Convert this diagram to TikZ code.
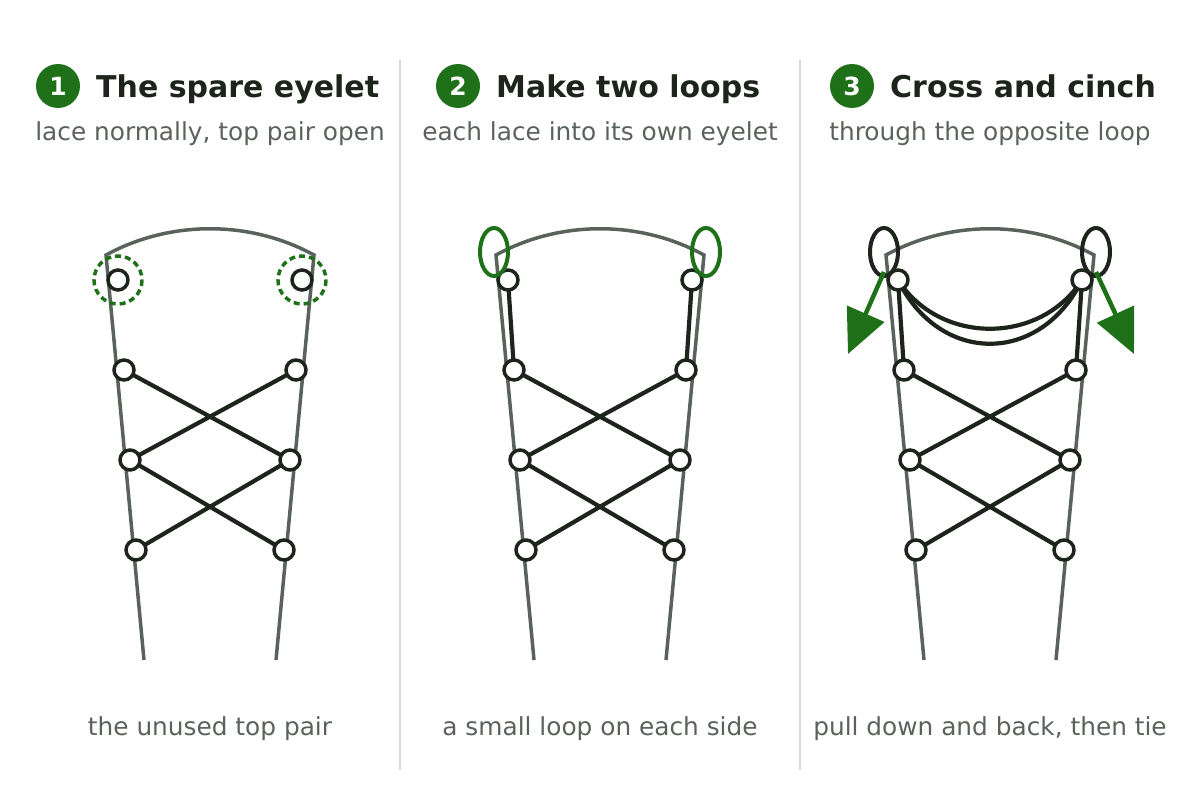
\documentclass[tikz,border=0pt]{standalone}
\usepackage{fontspec}
\setmainfont{DejaVu Sans}
\usetikzlibrary{arrows.meta}
\definecolor{grn}{HTML}{1E7019}
\definecolor{dk}{HTML}{1C241C}
\definecolor{shoe}{HTML}{5A625C}
\definecolor{txt}{HTML}{5A625C}
\begin{document}
\begin{tikzpicture}[x=1pt,y=-1pt,
 shoe/.style={draw=shoe,line width=3.5},
 eye/.style={circle,draw=dk,line width=3.5,fill=white,minimum size=20,inner sep=0},
 lace/.style={draw=dk,line width=4.2},
 badge/.style={circle,fill=grn,text=white,minimum size=44,inner sep=0,font=\fontsize{25}{25}\selectfont\bfseries},
 ttl/.style={anchor=base west,inner sep=0,text=dk,font=\fontsize{30}{32}\selectfont\bfseries},
 sub/.style={anchor=base,inner sep=0,text=txt,font=\fontsize{24.8}{26}\selectfont},
 arr/.style={draw=grn,line width=4.5,-{Triangle[length=44,width=40]}}]
\useasboundingbox (0,0) rectangle (1200,800);
\draw[draw=black!15,line width=1.5] (400,60)--(400,770) (800,60)--(800,770);
\foreach \o/\n/\bx/\t/\s/\c in {0/1/58/The spare eyelet/{lace normally, top pair open}/the unused top pair,
 390/2/68/Make two loops/each lace into its own eyelet/a small loop on each side,
 780/3/72/Cross and cinch/through the opposite loop/{pull down and back, then tie}}{
 \begin{scope}[xshift=\o]
 \node[badge] (b\n) at (\bx,86) {\n};
 \node[ttl] (t\n) at (\bx+38,97) {\t};
 \node[sub] (s\n) at (210,140) {\s};
 \node[sub] (c\n) at (210,735) {\c};
 \draw[shoe] (144,660)--(106,255) .. controls (170,220) and (250,220) .. (314,255)--(276,660);
 \end{scope}}
% panel 1
\foreach \n/\x/\y in {a/118/280,b/302/280,c/124/370,d/296/370,e/130/460,f/290/460,g/136/550,h/284/550}
 \coordinate (p1\n) at (\x,\y);
\draw[lace] (p1c)--(p1f) (p1d)--(p1e) (p1e)--(p1h) (p1f)--(p1g);
\foreach \n in {a,b,c,d,e,f,g,h} \node[eye] (e1\n) at (p1\n) {};
\draw[grn,line width=3.5,dash pattern=on 6pt off 4pt] (p1a) circle (24) (p1b) circle (24);
% panel 2
\foreach \n/\x/\y in {a/508/280,b/692/280,c/514/370,d/686/370,e/520/460,f/680/460,g/526/550,h/674/550}
 \coordinate (p2\n) at (\x,\y);
\draw[lace] (p2a)--(p2c) (p2b)--(p2d) (p2c)--(p2f) (p2d)--(p2e) (p2e)--(p2h) (p2f)--(p2g);
\foreach \n in {a,b,c,d,e,f,g,h} \node[eye] (e2\n) at (p2\n) {};
\draw[grn,line width=4] (494,252) ellipse (14 and 24) (706,252) ellipse (14 and 24);
% panel 3
\foreach \n/\x/\y in {a/898/280,b/1082/280,c/904/370,d/1076/370,e/910/460,f/1070/460,g/916/550,h/1064/550}
 \coordinate (p3\n) at (\x,\y);
\draw[lace] (p3a)--(p3c) (p3b)--(p3d) (p3c)--(p3f) (p3d)--(p3e) (p3e)--(p3h) (p3f)--(p3g);
\draw[lace] (p3a) .. controls (940,345) and (1040,345) .. (p3b);
\draw[lace] (p3a) .. controls (940,365) and (1040,365) .. (p3b);
\foreach \n in {a,b,c,d,e,f,g,h} \node[eye] (e3\n) at (p3\n) {};
\draw[dk,line width=4] (884,252) ellipse (14 and 24) (1096,252) ellipse (14 and 24);
\coordinate (la) at (884,272); \coordinate (lt) at (848,354);
\coordinate (ra) at (1096,272); \coordinate (rt) at (1134,354);
\draw[arr] (la)--(lt);
\draw[arr] (ra)--(rt);
\end{tikzpicture}
\end{document}
